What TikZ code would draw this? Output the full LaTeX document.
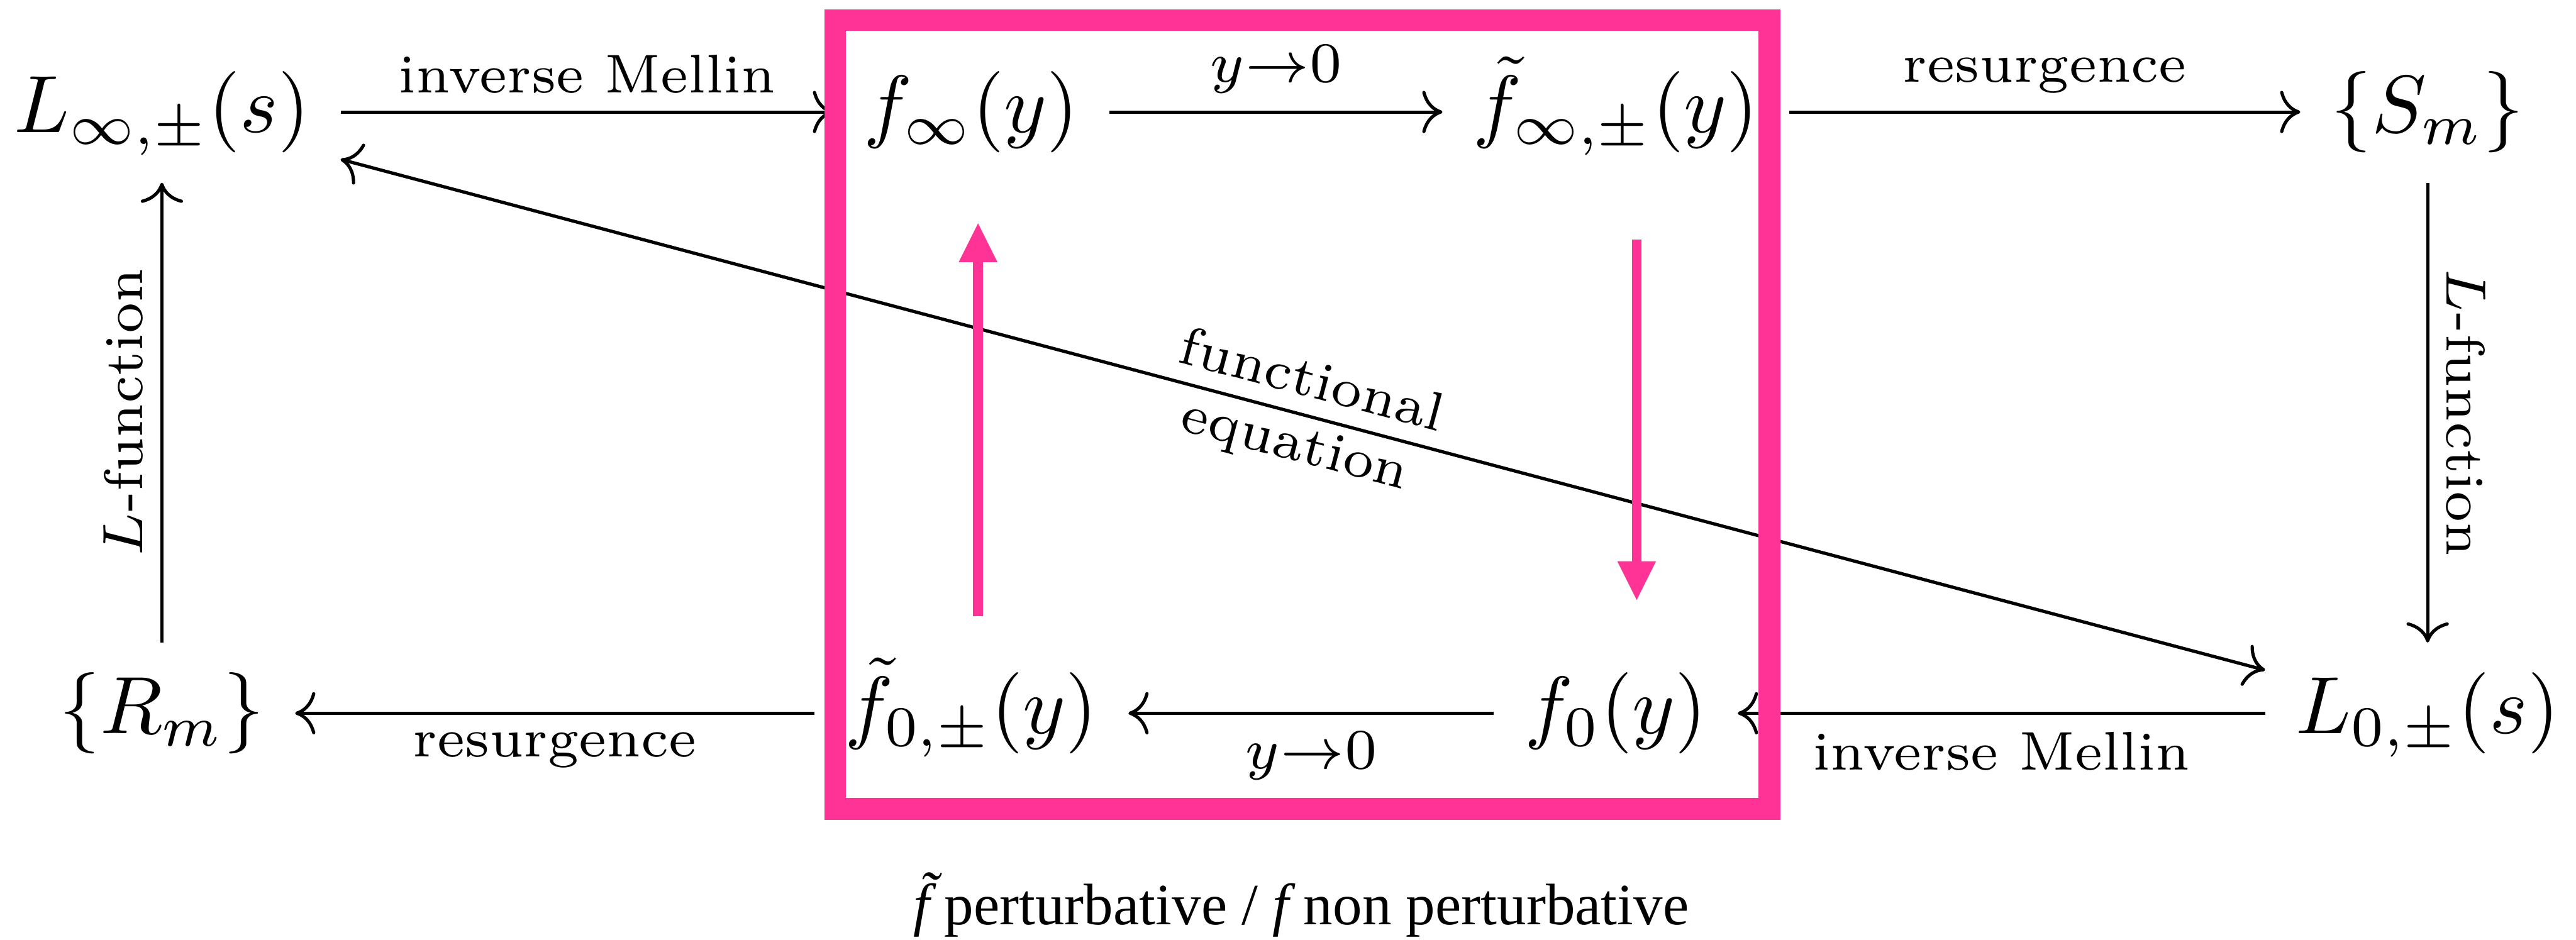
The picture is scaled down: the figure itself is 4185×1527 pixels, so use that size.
\documentclass[tikz,border=0pt]{standalone}
\usepackage{fontspec}
\newfontfamily\capfont{Liberation Serif}
\usetikzlibrary{arrows.meta}
\definecolor{hotpink}{RGB}{255,51,150}
\begin{document}
\begin{tikzpicture}[x=0.0757pt, y=-0.0757pt,
  obj/.style={inner xsep=3.6pt, inner ysep=3.5pt, text height=7.5pt, text depth=2.5pt, anchor=base},
  cd/.style={line width=0.4pt, -{Computer Modern Rightarrow}},
  cdboth/.style={line width=0.4pt, {Computer Modern Rightarrow}-{Computer Modern Rightarrow}},
  lab/.style={font=\fontsize{6.7}{8}\selectfont, inner sep=2.1pt},
  pinkbox/.style={draw=hotpink, line width=2.65pt},
  pinkarrow/.style={draw=hotpink, line width=1.21pt, -{Triangle[width=4.77pt,length=4.77pt,line width=0pt]}}
]
\useasboundingbox (0,0) rectangle (4185,1527);

% objects
\node[obj] (Linf) at (263,215)  {$L_{\infty,\pm}(s)$};
\node[obj] (finf) at (1578,215) {$f_\infty(y)$};
\node[obj] (ftinf) at (2625,215) {$\tilde f_{\infty,\pm}(y)$};
\node[obj] (Sm) at (3944,215) {$\{S_m\}$};
\node[obj] (Rm) at (263,1192) {$\{R_m\}$};
\node[obj] (ft0) at (1578,1192) {$\tilde f_{0,\pm}(y)$};
\node[obj] (f0) at (2625,1192) {$f_0(y)$};
\node[obj] (L0) at (3944,1192) {$L_{0,\pm}(s)$};

% arrows
\draw[cd] (Linf) -- node[midway, above, lab] {inverse Mellin} (finf);
\draw[cd] (finf) -- node[midway, above, lab] {$y{\to}0$} (ftinf);
\draw[cd] (ftinf) -- node[midway, above, lab] {resurgence} (Sm);
\draw[cd] (Sm) -- node[midway, above, sloped, lab] {$L$-function} (L0);
\draw[cd] (L0) -- node[midway, below, lab] {inverse Mellin} (f0);
\draw[cd] (f0) -- node[midway, below, lab] {$y{\to}0$} (ft0);
\draw[cd] (ft0) -- node[midway, below, lab] {resurgence} (Rm);
\draw[cd] (Rm) -- node[midway, above, sloped, lab] {$L$-function} (Linf);
\draw[cdboth] (Linf) -- node[midway, sloped, align=center, lab, inner sep=0pt] {functional\\equation} (L0);

% pink overlay
\draw[pinkbox] (1356.5,32.5) rectangle (2874.5,1314.5);
\coordinate (upS) at (1589,1001);
\coordinate (upE) at (1589,363);
\coordinate (dnS) at (2659,389);
\coordinate (dnE) at (2659,975);
\draw[pinkarrow] (upS) -- (upE);
\draw[pinkarrow] (dnS) -- (dnE);

% caption
\node[anchor=base, inner sep=0pt, font=\capfont\fontsize{7.2}{8.6}\selectfont] (cap) at (2114,1502)
  {{\itshape\~{f}} perturbative / {\itshape f} non perturbative};
\end{tikzpicture}
\end{document}
